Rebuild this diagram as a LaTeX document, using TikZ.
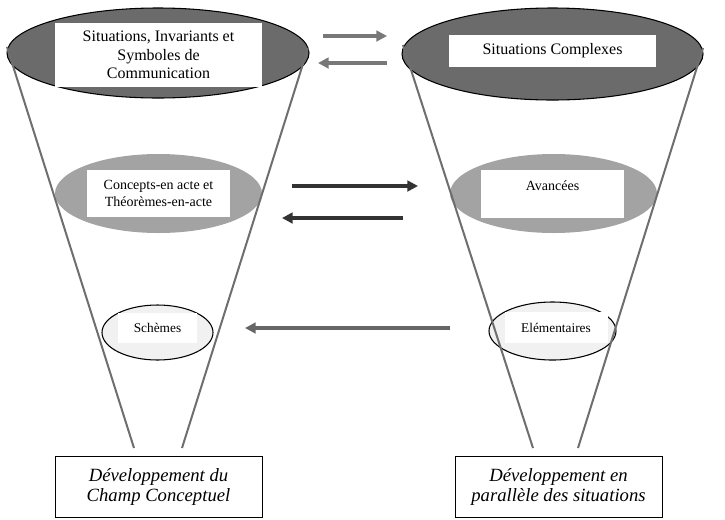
\documentclass[tikz,border=0pt]{standalone}
\usepackage{fontspec}
\setmainfont{Liberation Serif}
\usetikzlibrary{shapes.geometric,arrows.meta}
\definecolor{topfill}{HTML}{6B6B6B}
\definecolor{midfill}{HTML}{A3A3A3}
\definecolor{lowfill}{HTML}{F1F1F1}
\definecolor{funnelgray}{HTML}{6E6E6E}
\definecolor{arrowtop}{HTML}{787878}
\definecolor{arrowmid}{HTML}{333333}
\definecolor{arrowlow}{HTML}{666666}
\begin{document}
\begin{tikzpicture}[x=0.75pt,y=-0.75pt,
  topell/.style={ellipse,draw=black,line width=0.8pt,fill=topfill,inner sep=0pt},
  midell/.style={ellipse,fill=midfill,inner sep=0pt},
  lowell/.style={ellipse,draw=black,line width=0.8pt,fill=lowfill,inner sep=0pt},
  whitebox/.style={rectangle,fill=white,inner sep=0pt,align=center},
  devbox/.style={rectangle,draw=black,line width=0.6pt,fill=white,inner sep=0pt,align=center,
    minimum width=155.25pt,minimum height=45.75pt,font=\fontsize{14}{15}\selectfont\itshape},
  funnel/.style={draw=funnelgray,line width=1.5pt},
  flow/.style={line width=#1,-{Triangle[length=8pt,width=8pt]}},
]
\useasboundingbox (0,0) rectangle (725,519);

% ellipses
\node[topell,minimum width=226.5pt,minimum height=67.5pt] (tl) at (158,53) {};
\node[topell,minimum width=225.75pt,minimum height=69pt] (tr) at (552.5,54) {};
\node[midell,minimum width=155.25pt,minimum height=59.25pt] (ml) at (158.5,193.5) {};
\node[midell,minimum width=155.25pt,minimum height=59.25pt] (mr) at (553.5,193.5) {};
\node[lowell,minimum width=83.25pt,minimum height=41.25pt] (bl) at (157.5,332.5) {};
\node[lowell,minimum width=95.25pt,minimum height=43.5pt] (br) at (552.5,331) {};

% funnel lines
\coordinate (lfa) at (7,47);    \coordinate (lfb) at (134,448);
\coordinate (lfc) at (308,48);  \coordinate (lfd) at (182,448);
\coordinate (rfa) at (403,45);  \coordinate (rfb) at (533,448);
\coordinate (rfc) at (703,48);  \coordinate (rfd) at (578,448);
\draw[funnel] (lfa) -- (lfb);
\draw[funnel] (lfc) -- (lfd);
\draw[funnel] (rfa) -- (rfb);
\draw[funnel] (rfc) -- (rfd);

% inner boxes
\node[whitebox,minimum width=155.25pt,minimum height=48pt,font=\fontsize{12}{14}\selectfont] (tlt) at (158.5,55)
  {Situations, Invariants et\\Symboles de\\Communication};
\node[whitebox,minimum width=155.25pt,minimum height=24pt,font=\fontsize{12}{14}\selectfont] (trt) at (552.5,51)
  {Situations Complexes};
\node[whitebox,minimum width=107.25pt,minimum height=35.25pt,font=\fontsize{10.5}{12.75}\selectfont] (mlt) at (158.5,193.5)
  {Concepts-en acte et\\Théorèmes-en-acte};
\node[whitebox,minimum width=107.25pt,minimum height=36pt,font=\fontsize{10.5}{12.75}\selectfont] (mrt) at (552.5,194)
  {Avancées\\\mbox{}};
\node[whitebox,minimum width=59.25pt,minimum height=22.5pt,font=\fontsize{10}{12}\selectfont] (blt) at (157.5,328)
  {Schèmes};
\node[whitebox,minimum width=77.25pt,minimum height=23.25pt,font=\fontsize{10}{12}\selectfont] (brt) at (556,327.5)
  {Elémentaires};

% bottom boxes
\node[devbox] (dl) at (158.5,486.5) {Développement du\\Champ Conceptuel};
\node[devbox] (dr) at (558.5,486.5) {Développement en\\parallèle des situations};

% arrows
\coordinate (a1s) at (323,36);  \coordinate (a1e) at (387,36);
\coordinate (a2s) at (387,63);  \coordinate (a2e) at (318,63);
\coordinate (a3s) at (292,186); \coordinate (a3e) at (418,186);
\coordinate (a4s) at (403,218); \coordinate (a4e) at (282,218);
\coordinate (a5s) at (450,328); \coordinate (a5e) at (245,328);
\draw[flow=2.4pt,draw=arrowtop,fill=arrowtop] (a1s) -- (a1e);
\draw[flow=2.4pt,draw=arrowtop,fill=arrowtop] (a2s) -- (a2e);
\draw[flow=2.8pt,draw=arrowmid,fill=arrowmid] (a3s) -- (a3e);
\draw[flow=2.8pt,draw=arrowmid,fill=arrowmid] (a4s) -- (a4e);
\draw[flow=2.6pt,draw=arrowlow,fill=arrowlow] (a5s) -- (a5e);
\end{tikzpicture}
\end{document}
